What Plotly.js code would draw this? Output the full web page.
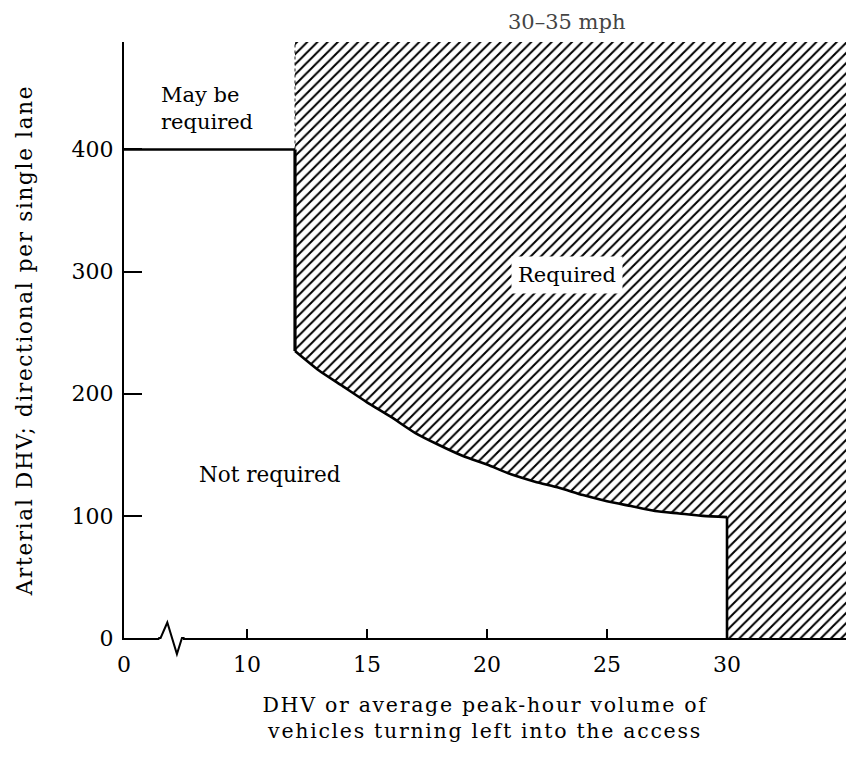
<!DOCTYPE html>
<html>
<head>
<meta charset="utf-8">
<script src="https://cdn.plot.ly/plotly-3.0.1.min.js"></script>
<style>
  html, body { margin: 0; padding: 0; background: #fff; }
  .xtitle, .ytitle { letter-spacing: 1.7px; }
</style>
</head>
<body>
<div id="chart" style="width:846px;height:758px;"></div>
<script>
// Boundary between "Not required" and "Required" (30-35 mph)
const curveX = [12, 13, 14, 15, 16, 17, 18, 19, 20, 21, 22, 23, 24, 25, 26, 27, 28, 29, 30];
const curveY = [235, 219, 206, 193, 181, 168, 158, 149, 142, 134, 128, 123, 117, 112, 108, 104, 102, 100, 99];
const mayBeX = [4.875, 12];          // "May be required" ceiling
const mayBeY = [400, 400];
const cutoffX = 30;                  // left-turn volume beyond which always required
const xTickVals = [4.875, 10, 15, 20, 25, 30];
const xTickText = ['0', '10', '15', '20', '25', '30'];
const yTickVals = [0, 100, 200, 300, 400];
const yTickText = ['0', '100', '200', '300', '400'];

const FONT = 'DejaVu Serif, Liberation Serif, serif';

// Hatched (required) region
const hatchX = [curveX[0], curveX[0]].concat(curveX).concat([cutoffX, 40, 40]);
const hatchY = [600, mayBeY[1]].concat(curveY).concat([0, 0, 600]);

const traces = [
  {
    x: hatchX, y: hatchY, type: 'scatter', mode: 'lines',
    fill: 'toself', fillcolor: 'rgba(0,0,0,0)',
    fillpattern: { shape: '/', size: 7.2, solidity: 0.28, fgcolor: '#000', bgcolor: '#fff' },
    line: { width: 0 }, hoverinfo: 'skip', showlegend: false
  },
  {
    x: [curveX[0], curveX[0]], y: [mayBeY[1], 600], type: 'scatter', mode: 'lines',
    line: { color: '#222', width: 1, dash: 'dot' }, hoverinfo: 'skip', showlegend: false
  },
  { // ceiling of "may be required"
    x: mayBeX, y: mayBeY, type: 'scatter', mode: 'lines',
    line: { color: '#000', width: 2.4 }, hoverinfo: 'skip', showlegend: false
  },
  { // drop at x = 12
    x: [curveX[0], curveX[0]], y: [mayBeY[1], curveY[0]], type: 'scatter', mode: 'lines',
    line: { color: '#000', width: 3.2 }, hoverinfo: 'skip', showlegend: false
  },
  { // curve
    x: curveX, y: curveY, type: 'scatter', mode: 'lines',
    line: { color: '#000', width: 2.6, shape: 'spline', smoothing: 0.6 },
    hoverinfo: 'skip', showlegend: false
  },
  { // drop at x = 30
    x: [cutoffX, cutoffX], y: [curveY[curveY.length - 1], 0], type: 'scatter', mode: 'lines',
    line: { color: '#000', width: 2.6 }, hoverinfo: 'skip', showlegend: false
  }
];

const layout = {
  width: 846, height: 758,
  margin: { l: 124, r: 0, t: 42, b: 120 },
  paper_bgcolor: '#fff', plot_bgcolor: '#fff',
  font: { family: FONT, color: '#000', size: 21 },
  showlegend: false,
  xaxis: {
    range: [4.875, 34.958], showgrid: false, zeroline: false,
    showline: true, linecolor: '#000', linewidth: 2,
    ticks: 'inside', ticklen: 9, tickwidth: 1.5, tickcolor: '#000',
    tickvals: xTickVals, ticktext: xTickText,
    tickfont: { family: FONT, size: 22, color: '#000' },
    ticklabelstandoff: 6,
    title: { text: 'DHV or average peak-hour volume of<br>vehicles turning left into the access',
             font: { family: FONT, size: 20.5, color: '#000' }, standoff: 21 }
  },
  yaxis: {
    range: [0, 488], showgrid: false, zeroline: false,
    showline: true, linecolor: '#000', linewidth: 2,
    ticks: 'inside', ticklen: 18, tickwidth: 2, tickcolor: '#000',
    tickvals: yTickVals, ticktext: yTickText,
    tickfont: { family: FONT, size: 22, color: '#000' },
    ticklabelstandoff: 4,
    title: { text: 'Arterial DHV; directional per single lane\u00a0\u00a0\u00a0',
             font: { family: FONT, size: 21.5, color: '#000' }, standoff: 33 }
  },
  shapes: [
    { type: 'line', xref: 'x', yref: 'paper', x0: 6.35, x1: 7.33, y0: 0, y1: 0,
      line: { color: '#fff', width: 4 }, layer: 'above' },
    { type: 'path', xref: 'x', yref: 'paper',
      path: 'M 6.30,0 L 6.40,0 L 6.68,0.026 L 7.08,-0.027 L 7.29,0 L 7.40,0',
      line: { color: '#000', width: 2 }, layer: 'above' }
  ],
  annotations: [
    { text: '30–35 mph', xref: 'paper', yref: 'paper', x: 0.6136, y: 1.0336,
      xanchor: 'center', yanchor: 'middle',
      showarrow: false, font: { family: FONT, size: 21, color: '#444' } },
    { text: 'May be<br>required', xref: 'paper', yref: 'paper', x: 0.048, y: 0.889,
      xanchor: 'left', yanchor: 'middle', align: 'left', showarrow: false,
      font: { family: FONT, size: 21 } },
    { text: 'Required', xref: 'paper', yref: 'paper', x: 0.6136, y: 0.609,
      xanchor: 'center', yanchor: 'middle',
      showarrow: false, bgcolor: '#fff', borderpad: 6, font: { family: FONT, size: 21 } },
    { text: 'Not required', xref: 'paper', yref: 'paper', x: 0.2022, y: 0.2735,
      xanchor: 'center', yanchor: 'middle',
      showarrow: false, font: { family: FONT, size: 21.5 } }
  ]
};

Plotly.newPlot('chart', traces, layout, { displayModeBar: false, staticPlot: true });
</script>
</body>
</html>
